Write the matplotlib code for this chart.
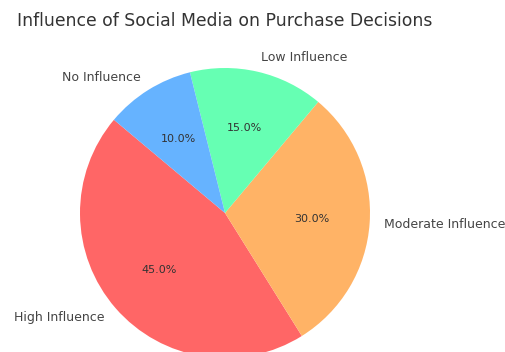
import matplotlib.pyplot as plt

labels = ['High Influence', 'Moderate Influence', 'Low Influence', 'No Influence']
shares = [45, 30, 15, 10]
colors = ['#ff6666', '#ffb366', '#66ffb3', '#66b3ff']

W, H = 506, 352
CX, CY, R = 225, 139, 145  # pie centre and radius in pixels (from bottom-left)

fig = plt.figure(figsize=(W / 100, H / 100), dpi=100)
side = 2.5 * R
ax = fig.add_axes([(CX - side / 2) / W, (CY - side / 2) / H, side / W, side / H])

wedges, texts, autotexts = ax.pie(shares, labels=labels, colors=colors,
                                  autopct='%1.1f%%', startangle=140,
                                  textprops={'fontsize': 9, 'color': '#444444'})
for t in autotexts:
    t.set_fontsize(8)
    t.set_color('#333333')

ax.set_xlim(-1.25, 1.25)
ax.set_ylim(-1.25, 1.25)
ax.set_aspect('equal')

fig.text(CX / W, 1 - 21 / H, 'Influence of Social Media on Purchase Decisions',
         ha='center', va='center', fontsize=12.4, color='#333333')

fig.savefig('out.png', dpi=100)
